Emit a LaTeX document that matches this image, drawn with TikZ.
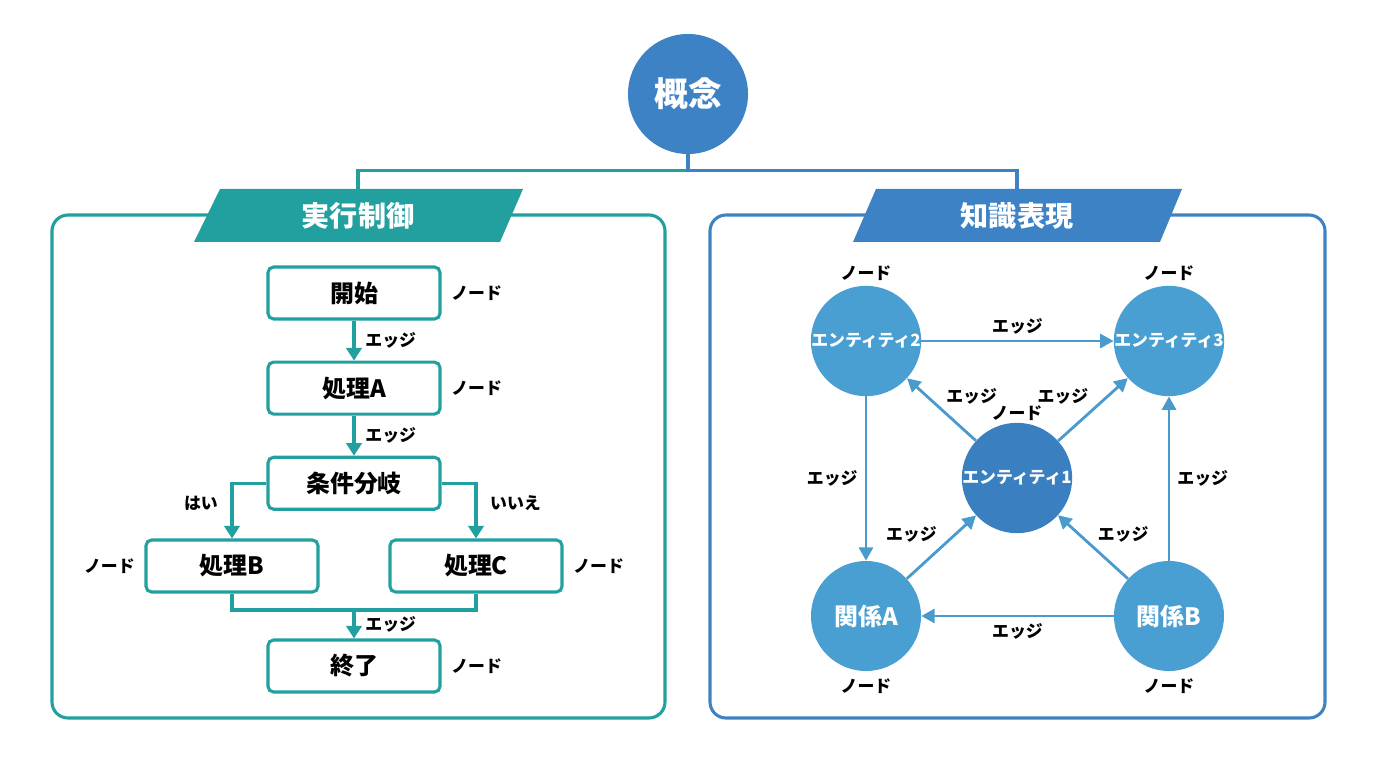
\documentclass[tikz,border=0pt]{standalone}
\usepackage{fontspec}
\setmainfont{Noto Sans CJK JP}
\usetikzlibrary{positioning,arrows.meta}

\definecolor{flowteal}{HTML}{22A0A0}
\definecolor{headblue}{HTML}{3D82C4}
\definecolor{panelblue}{HTML}{3F82C2}
\definecolor{nodeblue}{HTML}{4A9FD2}
\definecolor{coreblue}{HTML}{3A80C0}
\definecolor{edgeblue}{HTML}{4A9ACD}

\tikzset{
  concept/.style={circle, fill=headblue, minimum size=3cm, inner sep=0pt, text=white,
    font=\fontsize{24}{28}\selectfont\bfseries},
  banner/.style={minimum height=1.325cm, inner sep=0pt, text=white,
    font=\fontsize{20}{24}\selectfont\bfseries},
  flowbox/.style={draw=flowteal, line width=2.2pt, rounded corners=4pt, fill=white,
    minimum width=4.3cm, minimum height=1.3cm, font=\fontsize{17}{20}\selectfont\bfseries},
  tag/.style={font=\fontsize{12}{14}\selectfont\bfseries, inner sep=1pt},
  flowedge/.style={draw=flowteal, line width=2.2pt, -{Triangle[length=9pt,width=11pt]}},
  entity/.style={circle, fill=nodeblue, minimum size=2.75cm, inner sep=0pt, text=white,
    font=\fontsize{12}{14}\selectfont\bfseries},
  relation/.style={entity, font=\fontsize{17}{20}\selectfont\bfseries},
  graphedge/.style={draw=edgeblue, line width=2pt, -{Triangle[length=9.5pt,width=10pt]}}
}

\begin{document}
\begin{tikzpicture}[x=0.025cm,y=-0.025cm]
\useasboundingbox (0,0) rectangle (1376,768);

% panels
\draw[flowteal, line width=2.2pt, rounded corners=0.4cm] (52,215) rectangle (665,718);
\draw[panelblue, line width=2.2pt, rounded corners=0.4cm] (710,215) rectangle (1325,718);

% banners
\fill[flowteal] (194,242) -- (220,189) -- (523,189) -- (500,242) -- cycle;
\fill[headblue] (853,242) -- (876,189) -- (1182,189) -- (1160,242) -- cycle;
\node[banner] (exec) at (358,216) {実行制御};
\node[banner] (know) at (1017,216) {知識表現};

\node[concept] (concept) at (688,94) {概念};
\draw[flowteal, line width=2.2pt] (concept.south) -- ++(0,16) -| (exec.north);
\draw[headblue, line width=2.2pt] (concept.south) -- ++(0,16) -| (know.north);

% flow chart
\node[flowbox] (start) at (354,293) {開始};
\node[flowbox, below = 1cm of start] (procA) {処理A};
\node[flowbox, below = 1cm of procA] (branch) {条件分岐};
\node[flowbox] (procB) at (232,566) {処理B};
\node[flowbox] (procC) at (476,566) {処理C};
\node[flowbox] (end) at (354,666) {終了};
\coordinate (merge) at (354,610);

\node[tag, right = 0.2cm of start] (startTag) {ノード};
\node[tag, right = 0.2cm of procA] (procATag) {ノード};
\node[tag, left = 0.2cm of procB] (procBTag) {ノード};
\node[tag, right = 0.2cm of procC] (procCTag) {ノード};
\node[tag, right = 0.2cm of end] (endTag) {ノード};

\draw[flowedge] (start) -- node[tag, right=6pt] {エッジ} (procA);
\draw[flowedge] (procA) -- node[tag, right=6pt] {エッジ} (branch);
\draw[flowedge] (branch.west) -| node[tag, pos=0.68, left=8pt] {はい} (procB.north);
\draw[flowedge] (branch.east) -| node[tag, pos=0.68, right=8pt] {いいえ} (procC.north);
\draw[flowteal, line width=2.2pt] (procB.south) |- (merge) -| (procC.south);
\draw[flowedge] (merge) -- node[tag, right=6pt] {エッジ} (end);

% knowledge graph
\node[entity] (e2) at (866,341) {エンティティ2};
\node[entity] (e3) at (1169,341) {エンティティ3};
\node[entity, fill=coreblue] (e1) at (1017,478) {エンティティ1};
\node[relation] (ra) at (866,616) {関係A};
\node[relation] (rb) at (1169,616) {関係B};

\node[tag, above = 2pt of e2] (e2Tag) {ノード};
\node[tag, above = 2pt of e3] (e3Tag) {ノード};
\node[tag, above = 0pt of e1] (e1Tag) {ノード};
\node[tag, below = 4pt of ra] (raTag) {ノード};
\node[tag, below = 4pt of rb] (rbTag) {ノード};

\draw[graphedge] (e2) -- node[tag, above=3pt] {エッジ} (e3);
\draw[graphedge] (e1) -- node[tag, above right=2pt] {エッジ} (e2);
\draw[graphedge] (e1) -- node[tag, above left=2pt] {エッジ} (e3);
\draw[graphedge] (e2) -- node[tag, left=4pt] {エッジ} (ra);
\draw[graphedge] (rb) -- node[tag, right=4pt] {エッジ} (e3);
\draw[graphedge] (ra) -- node[tag, above left=2pt] {エッジ} (e1);
\draw[graphedge] (rb) -- node[tag, above right=2pt] {エッジ} (e1);
\draw[graphedge] (rb) -- node[tag, below=3pt] {エッジ} (ra);
\end{tikzpicture}
\end{document}
